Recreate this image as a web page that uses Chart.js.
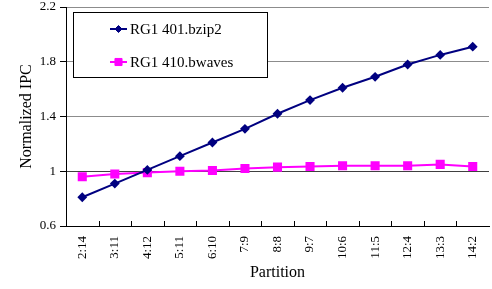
<!DOCTYPE html>
<html>
<head>
<meta charset="utf-8">
<script src="https://cdn.jsdelivr.net/npm/chart.js@4/dist/chart.umd.min.js"></script>
<style>
  html, body { margin: 0; padding: 0; background: #fff; overflow: hidden; }
  #wrap { width: 496px; height: 289px; }
</style>
</head>
<body>
<div id="wrap"><canvas id="ipcChart"></canvas></div>
<script>
const partitions = ["2:14", "3:11", "4:12", "5:11", "6:10", "7:9", "8:8", "9:7", "10:6", "11:5", "12:4", "13:3", "14:2"];
const bzip2 = [0.81, 0.91, 1.01, 1.11, 1.21, 1.31, 1.42, 1.52, 1.61, 1.69, 1.78, 1.85, 1.91];
const bwaves = [0.96, 0.98, 0.99, 1.00, 1.005, 1.02, 1.03, 1.035, 1.04, 1.04, 1.04, 1.05, 1.035];
const yTicks = [0.6, 1, 1.4, 1.8, 2.2];

const serif = "'Liberation Serif', 'DejaVu Serif', serif";

// x tick labels read bottom-to-top, plus inward tick marks and the boxed legend
const customDraw = {
    id: "customDraw",
    afterDraw(chart) {
        const ctx = chart.ctx;
        const x = chart.scales.x;
        const area = chart.chartArea;
        ctx.save();

        // inward ticks between categories
        ctx.strokeStyle = "#000";
        ctx.lineWidth = 1;
        for (let i = 1; i < partitions.length; i++) {
            const px = Math.round((x.getPixelForValue(i - 1) + x.getPixelForValue(i)) / 2) + 0.5;
            ctx.beginPath();
            ctx.moveTo(px, area.bottom);
            ctx.lineTo(px, area.bottom - 5);
            ctx.stroke();
        }

        // rotated category labels
        ctx.fillStyle = "#000";
        ctx.font = "13px " + serif;
        ctx.textAlign = "right";
        ctx.textBaseline = "middle";
        partitions.forEach((lab, i) => {
            ctx.save();
            ctx.translate(x.getPixelForValue(i), area.bottom + 10);
            ctx.rotate(-Math.PI / 2);
            ctx.fillText(lab, 0, 0);
            ctx.restore();
        });

        // legend
        ctx.fillStyle = "#fff";
        ctx.fillRect(73.5, 12.5, 194, 65);
        ctx.strokeStyle = "#000";
        ctx.strokeRect(73.5, 12.5, 194, 65);
        const rows = [29, 62];
        chart.data.datasets.forEach((ds, i) => {
            const y = rows[i];
            ctx.strokeStyle = ds.borderColor;
            ctx.lineWidth = 2;
            ctx.beginPath();
            ctx.moveTo(110, y);
            ctx.lineTo(127, y);
            ctx.stroke();
            ctx.fillStyle = ds.pointBackgroundColor;
            ctx.strokeStyle = ds.pointBorderColor;
            ctx.lineWidth = 1;
            Chart.helpers.drawPoint(ctx, { pointStyle: ds.pointStyle, radius: ds.pointRadius, borderWidth: 1 }, 118.5, y);
            ctx.fillStyle = "#000";
            ctx.font = "15px " + serif;
            ctx.textAlign = "left";
            ctx.fillText(ds.label, 130, y + 1);
        });
        ctx.restore();
    }
};

new Chart(document.getElementById("ipcChart").getContext("2d"), {
    type: "line",
    data: {
        labels: partitions,
        datasets: [
            {
                label: "RG1 401.bzip2",
                data: bzip2,
                borderColor: "#000080",
                backgroundColor: "#000080",
                pointBackgroundColor: "#000080",
                pointBorderColor: "#000080",
                borderWidth: 2,
                pointStyle: "rectRot",
                pointRadius: 3.5,
                tension: 0
            },
            {
                label: "RG1 410.bwaves",
                data: bwaves,
                borderColor: "#ff00ff",
                backgroundColor: "#ff00ff",
                pointBackgroundColor: "#ff00ff",
                pointBorderColor: "#ff00ff",
                borderWidth: 2,
                pointStyle: "rect",
                pointRadius: 5,
                tension: 0
            }
        ]
    },
    options: {
        responsive: true,
        maintainAspectRatio: false,
        animation: false,
        layout: { padding: { top: 7, right: 1, left: 0, bottom: 0 } },
        plugins: {
            legend: { display: false },
            tooltip: { enabled: false }
        },
        scales: {
            x: {
                offset: true,
                grid: { display: false, offset: true },
                border: { color: "#000", width: 1 },
                ticks: { display: false },
                title: {
                    display: true,
                    text: "Partition",
                    color: "#000",
                    font: { family: serif, size: 16 },
                    padding: { top: 0, bottom: 7 }
                },
                afterFit(scale) { scale.height = 63; }
            },
            y: {
                min: 0.6,
                max: 2.2,
                afterBuildTicks(scale) { scale.ticks = yTicks.map(v => ({ value: v })); },
                grid: {
                    color: ctx => ctx.tick && ctx.tick.value === 1 ? "#404040" : "#8c8c8c",
                    tickColor: "#000",
                    tickLength: 6,
                    lineWidth: 1
                },
                border: { color: "#000", width: 1 },
                ticks: {
                    color: "#000",
                    font: { family: serif, size: 13 },
                    padding: 4,
                    callback: v => String(v)
                },
                title: {
                    display: true,
                    text: "Normalized IPC",
                    color: "#000",
                    font: { family: serif, size: 16 },
                    padding: { top: 17, bottom: 0 }
                },
                afterFit(scale) {
                    scale.width = 66;
                    scale.paddingTop = 0;
                    scale.paddingBottom = 0;
                }
            }
        }
    },
    plugins: [customDraw]
});
</script>
</body>
</html>
